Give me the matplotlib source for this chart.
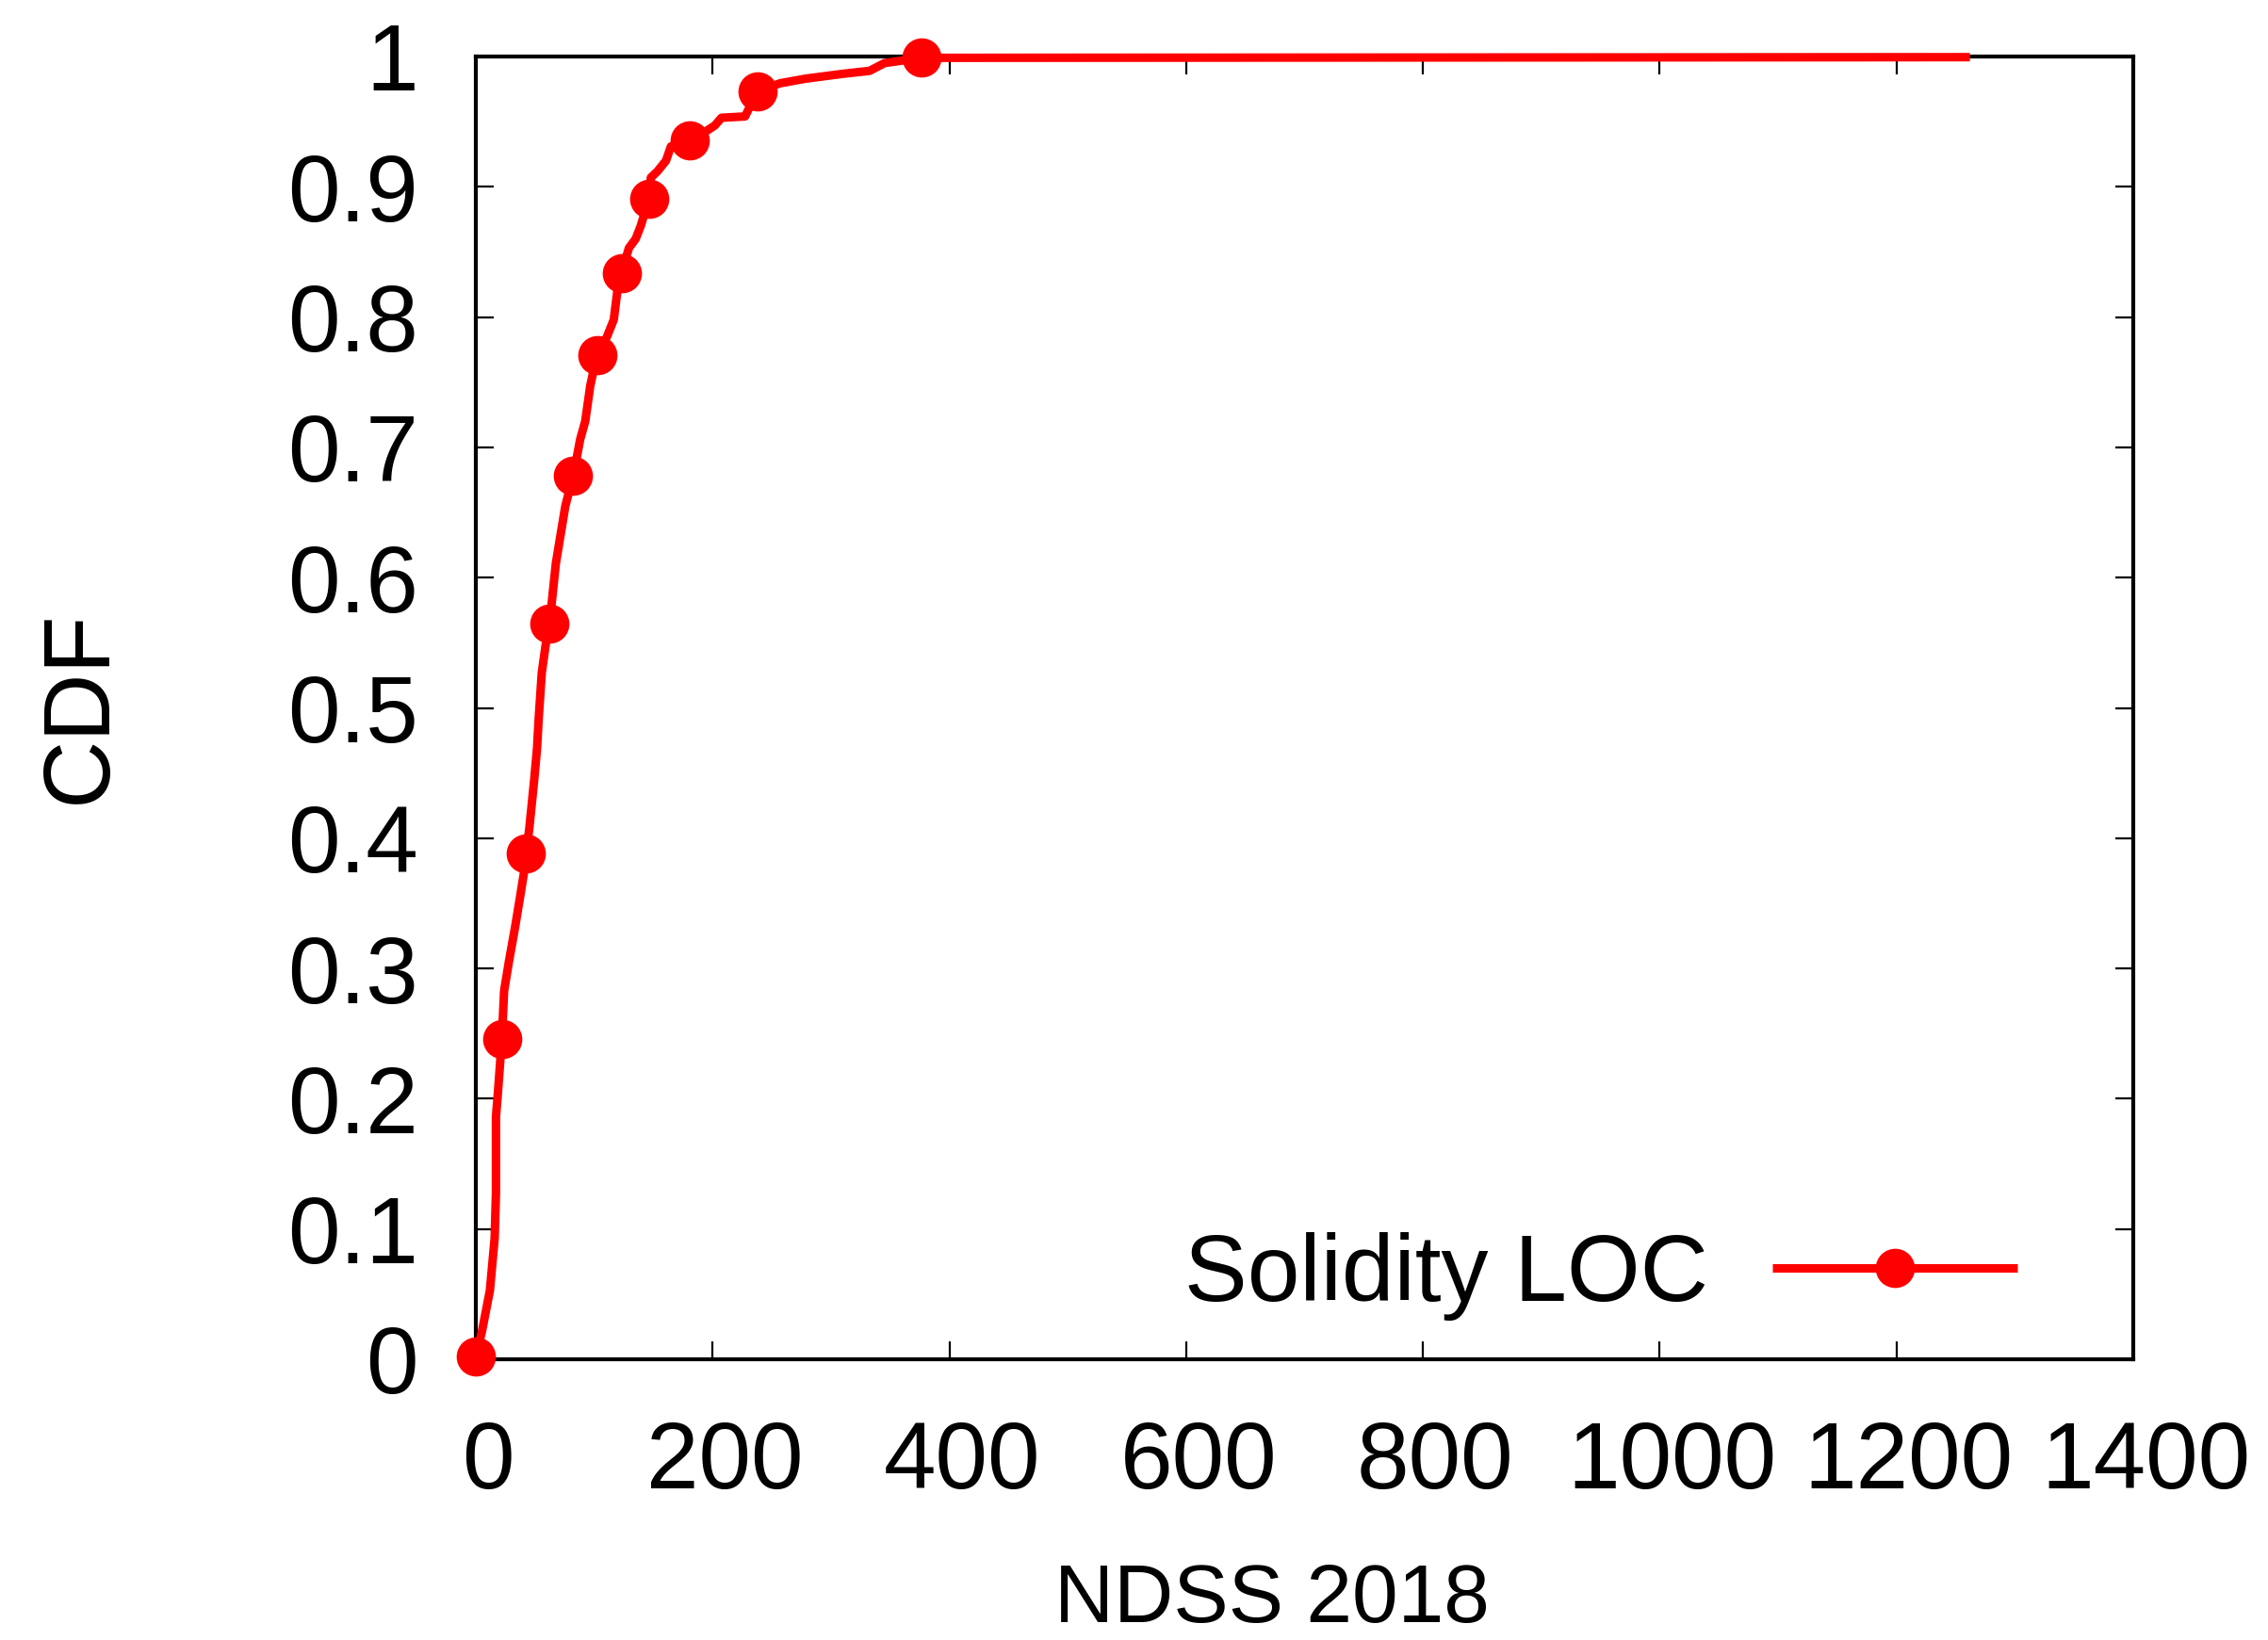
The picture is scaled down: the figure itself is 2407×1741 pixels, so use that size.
import matplotlib
matplotlib.use("Agg")
import matplotlib.pyplot as plt
import matplotlib.transforms as mtransforms

# CDF curve
line_x = [0, 5.3, 11.9, 15.9, 17.0, 17.0, 18.6, 22.0, 23.9, 27.9, 33.2, 37.2, 41.1, 42.4,
          45.1, 49.1, 51.7, 53.1, 55.7, 59.7, 62.3, 67.6, 71.6, 75.6, 79.6, 82.3,
          88.1, 92.4, 96.6, 102.3, 110.8, 116.5, 119.4, 123.0, 129.3, 135.0, 139.3,
          146.3, 147.8, 153.5, 160.6, 164.8, 180.5, 193.3, 201.8, 207.5, 227.4, 237.9,
          257.2, 278.5, 309.8, 332.6, 345.3, 376.6, 1262]
line_y = [0.002, 0.022, 0.053, 0.093, 0.128, 0.186, 0.204, 0.246, 0.283, 0.305, 0.332, 0.354,
          0.376, 0.388, 0.407, 0.443, 0.469, 0.492, 0.527, 0.553, 0.565, 0.611, 0.633,
          0.655, 0.669, 0.678, 0.706, 0.720, 0.747, 0.771, 0.785, 0.798, 0.819, 0.834,
          0.853, 0.860, 0.870, 0.891, 0.907, 0.912, 0.920, 0.931, 0.936, 0.942, 0.947,
          0.953, 0.954, 0.9735, 0.9795, 0.983, 0.9867, 0.989, 0.995, 0.999, 0.9995]

# marker points
marker_x = [0, 22.0, 42.4, 62.3, 82.3, 102.3, 123.0, 146.3, 180.5, 237.9, 376.6]
marker_y = [0.002, 0.246, 0.388, 0.565, 0.678, 0.771, 0.834, 0.891, 0.936, 0.9735, 0.999]

series_label = "Solidity LOC"
x_label = "NDSS 2018"
y_label = "CDF"
x_ticks = [0, 200, 400, 600, 800, 1000, 1200, 1400]
y_ticks = [0, 0.1, 0.2, 0.3, 0.4, 0.5, 0.6, 0.7, 0.8, 0.9, 1]
y_tick_labels = ["0", "0.1", "0.2", "0.3", "0.4", "0.5", "0.6", "0.7", "0.8", "0.9", "1"]

plt.rcParams['font.family'] = ['Liberation Sans', 'DejaVu Sans']

W, H = 2407, 1741
fig = plt.figure(figsize=(W / 100, H / 100), dpi=100)
L, R, T, B = 505, 2264, 60, 1443
ax = fig.add_axes([L / W, 1 - B / H, (R - L) / W, (B - T) / H])

red = '#ff0000'
LW = 6.5
ax.plot(line_x, line_y, color=red, lw=LW, solid_joinstyle='round', solid_capstyle='butt',
        clip_on=False, zorder=3)
ax.plot(marker_x, marker_y, linestyle='none', marker='o', ms=30, color=red,
        markeredgewidth=0, clip_on=False, zorder=4)
# legend proxy
ax.plot([], [], color=red, lw=LW, marker='o', ms=30, markeredgewidth=0,
        solid_capstyle='butt', label=series_label)

ax.set_xlim(0, 1400)
ax.set_ylim(0, 1)
ax.set_xticks(x_ticks)
ax.set_xticklabels([str(t) for t in x_ticks])
ax.set_yticks(y_ticks)
ax.set_yticklabels(y_tick_labels)

for s in ax.spines.values():
    s.set_linewidth(3.0)
    s.set_color('black')

ax.tick_params(axis='both', which='major', direction='in', length=14, width=1.6,
               labelsize=72, top=True, right=True, colors='black')
ax.tick_params(axis='x', pad=46)
ax.tick_params(axis='y', pad=44)

# gnuplot-like slight right shift of x tick labels
off = mtransforms.ScaledTranslation(13 / 100, 0, fig.dpi_scale_trans)
for lab in ax.get_xticklabels():
    lab.set_transform(lab.get_transform() + off)

fig.text(86 / W, 1 - 750 / H, y_label, rotation=90, fontsize=72, ha='center', va='center')
fig.text(1350 / W, 1 - 1722 / H, x_label, fontsize=63, ha='center', va='baseline')

leg = ax.legend(loc='center right', bbox_to_anchor=(2141 / W, 1 - 1355 / H),
                bbox_transform=fig.transFigure, frameon=False, markerfirst=False,
                fontsize=72, handlelength=2.6, handletextpad=0.68, borderpad=0,
                borderaxespad=0)

fig.savefig("out.png", dpi=100, facecolor='white')
